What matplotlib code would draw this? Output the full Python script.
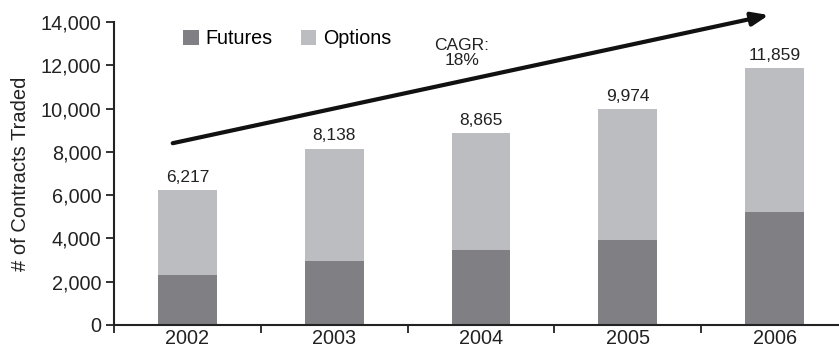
import matplotlib
matplotlib.use("Agg")
import matplotlib.pyplot as plt
import numpy as np

years = ["2002", "2003", "2004", "2005", "2006"]
totals = [6217, 8138, 8865, 9974, 11859]
futures = [2300, 2950, 3450, 3950, 5200]
options = [t - f for t, f in zip(totals, futures)]
total_labels = ["6,217", "8,138", "8,865", "9,974", "11,859"]

plt.rcParams['font.family'] = ['Liberation Sans', 'DejaVu Sans']

fig = plt.figure(figsize=(8.39, 3.54), dpi=100)
ax = fig.add_axes([114/839, 29/354, 734/839, 303/354])

x = np.arange(len(years))
fut_c = '#808084'
opt_c = '#bcbdc0'
b1 = ax.bar(x, futures, width=0.40, color=fut_c, label='Futures', zorder=2)
b2 = ax.bar(x, options, width=0.40, bottom=futures, color=opt_c, label='Options', zorder=2)

for xi, t, lab in zip(x, totals, total_labels):
    ax.annotate(lab, (xi, t), xytext=(0, 4), textcoords='offset points',
                ha='center', va='bottom', fontsize=12.5, color='#222222')

ax.set_xlim(-0.5, 4.5)
ax.set_ylim(0, 14000)
ax.set_yticks(np.arange(0, 14001, 2000))
ax.set_yticklabels([f"{v:,}" for v in range(0, 14001, 2000)], fontsize=14.3, color='#222222')
ax.set_xticks(x)
ax.set_xticklabels(years, fontsize=14.3, color='#222222')
ax.tick_params(axis='x', which='major', length=0, pad=3)
ax.set_xticks(np.arange(-0.5, 4.6, 1.0), minor=True)
ax.tick_params(axis='x', which='minor', length=6, width=1.3, color='#222222', direction='out')
ax.tick_params(axis='y', length=6, width=1.3, color='#222222', direction='out', pad=3)

for s in ['top', 'right']:
    ax.spines[s].set_visible(False)
for s in ['left', 'bottom']:
    ax.spines[s].set_linewidth(1.5)
    ax.spines[s].set_color('#222222')

ax.set_ylabel('# of Contracts Traded', fontsize=14.5, color='#222222', labelpad=8)

ax.legend(handles=[b1, b2], ncol=2, frameon=False, loc='upper left',
          bbox_to_anchor=(0.07, 1.035), fontsize=14.2, handlelength=0.8,
          handleheight=0.8, handletextpad=0.35, columnspacing=1.4)

ax.annotate('', xy=(3.96, 14320), xytext=(-0.1, 8400), xycoords='data',
            annotation_clip=False,
            arrowprops=dict(arrowstyle='-|>,head_length=1.0,head_width=0.4',
                            lw=3, color='#111111', shrinkA=0, shrinkB=0))
ax.text(1.87, 12560, 'CAGR:\n18%', ha='center', va='center', fontsize=12.5,
        color='#222222', linespacing=1.0)

fig.savefig('out.png', dpi=100)
